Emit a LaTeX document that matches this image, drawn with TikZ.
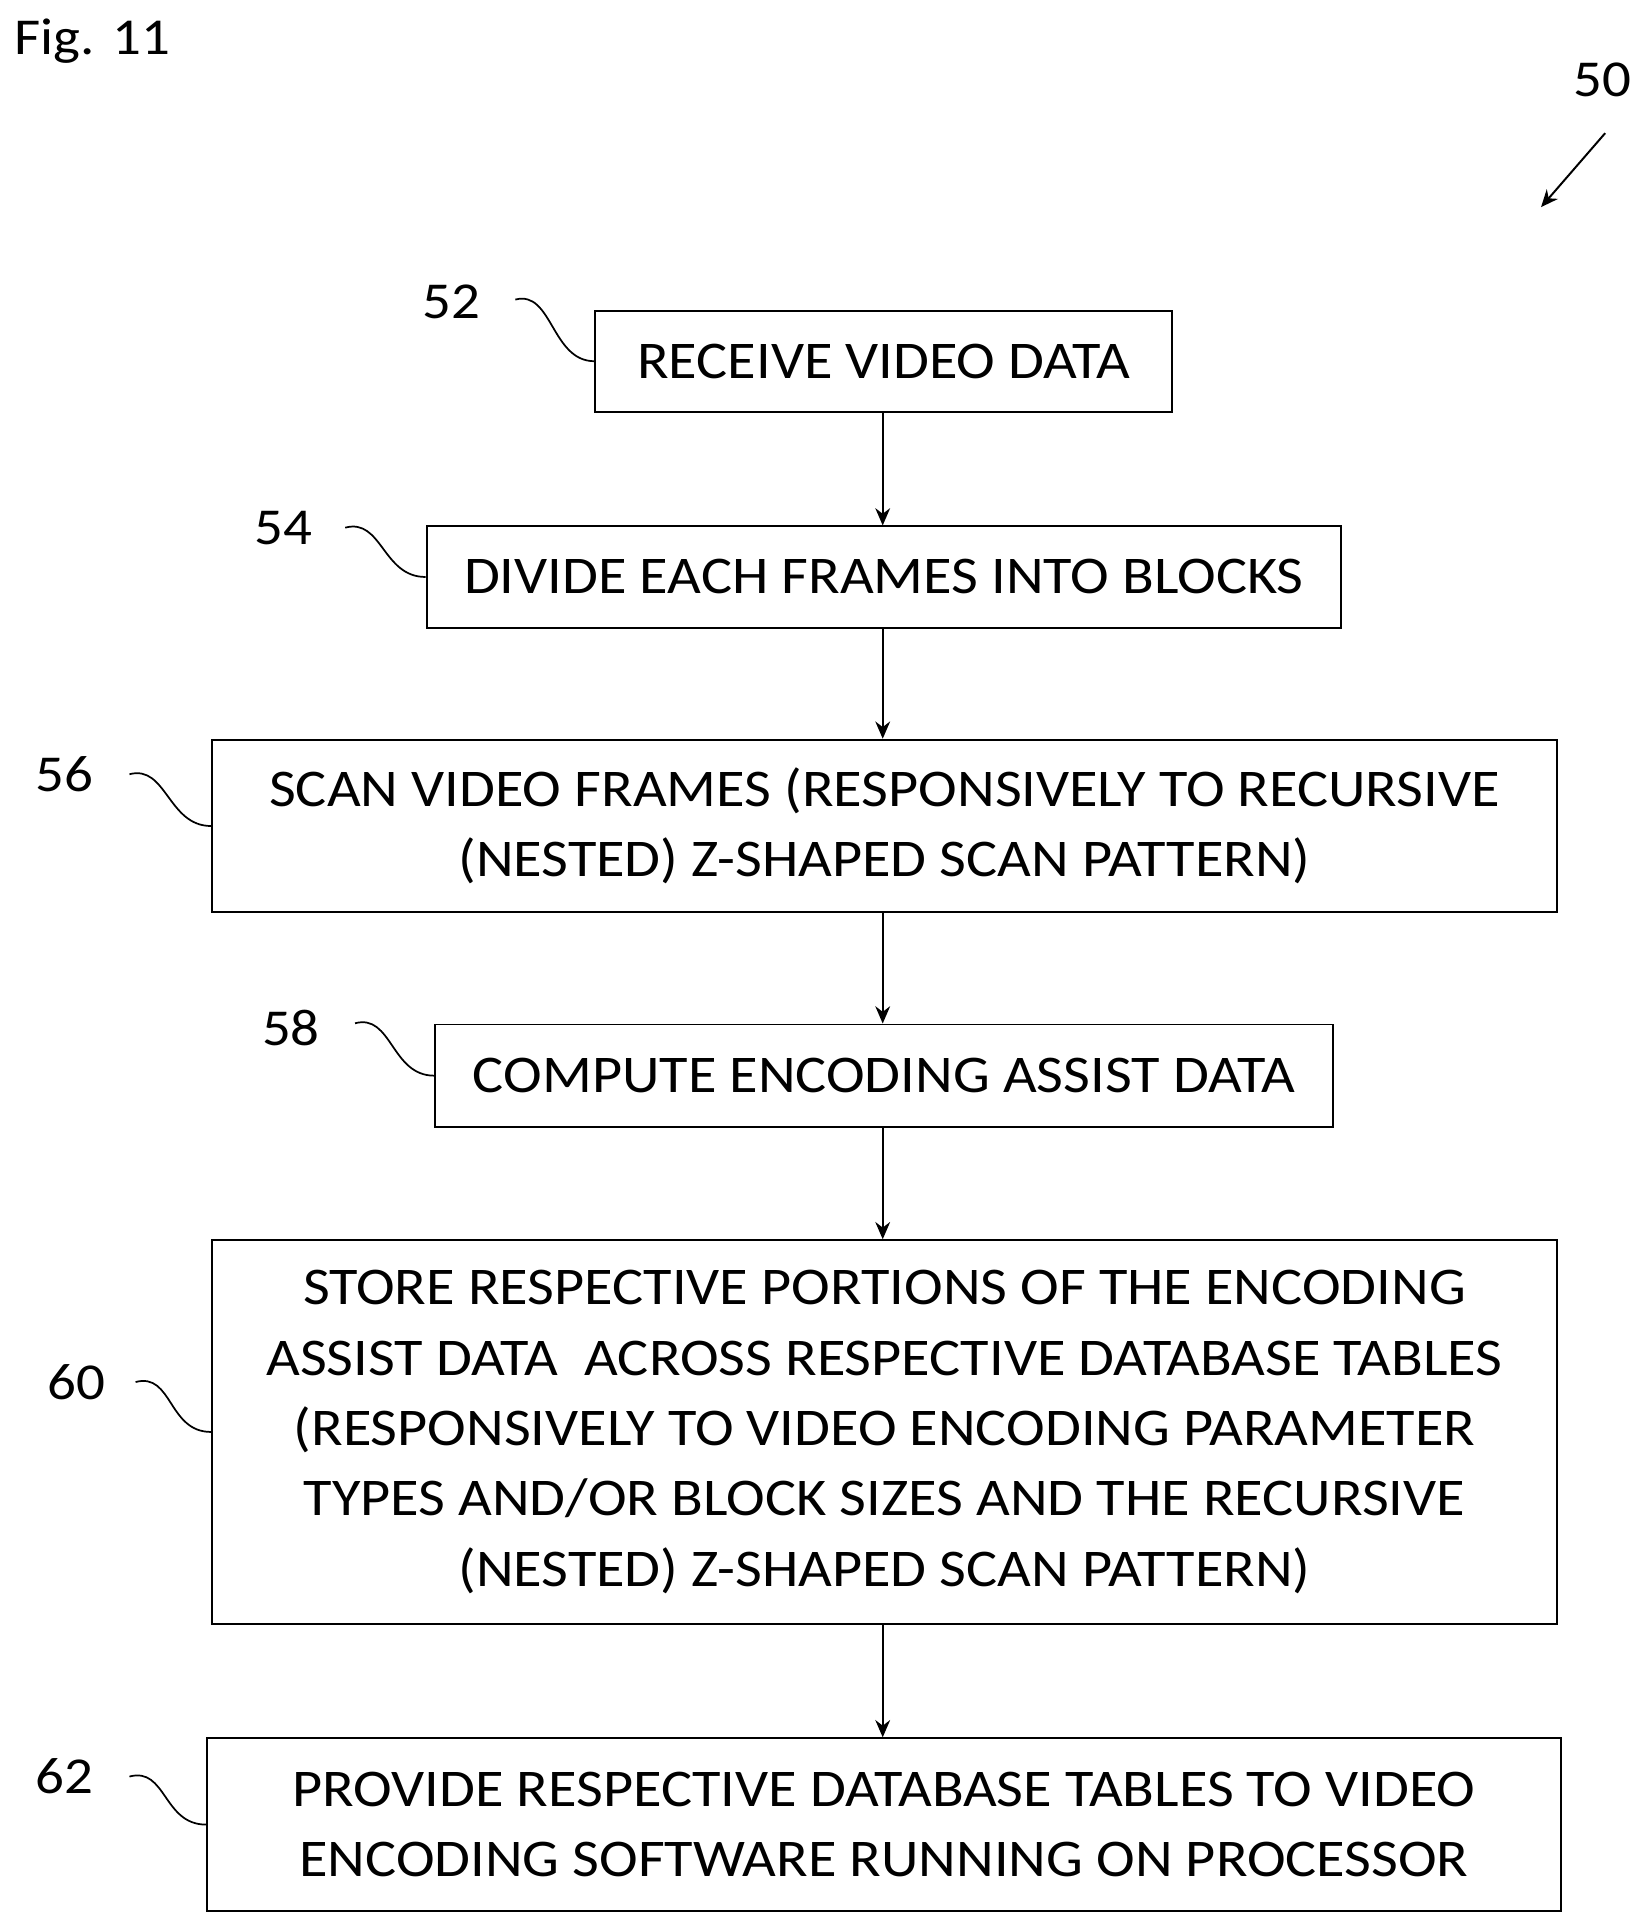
\documentclass[tikz,border=0pt]{standalone}
\usepackage{fontspec}
\setmainfont{Carlito}
\newfontfamily\boxfont[FakeStretch=1.1]{Carlito}
\usetikzlibrary{arrows.meta}
\begin{document}
\begin{tikzpicture}[x=1pt,y=-1pt,
  box/.style={draw,line width=1.6pt,inner sep=0pt,align=center,font=\boxfont\fontsize{43}{57}\selectfont},
  lab/.style={font=\boxfont\fontsize{42}{48}\selectfont,inner sep=0pt},
  arr/.style={line width=1.6pt,-{Stealth[length=14pt,width=12pt]}},
  sq/.style={line width=1.4pt}]
\useasboundingbox (0,0) rectangle (1331,1559);
\node[lab] (fig) at (75,33) {Fig. 11};
\node[lab] (n50) at (1300,65) {50};
\coordinate (a50s) at (1302,108);
\coordinate (a50e) at (1250,168);
\draw[arr] (a50s) -- (a50e);

\node[box,minimum width=468pt,minimum height=82pt] (b52) at (717,293) {RECEIVE VIDEO DATA};
\node[box,minimum width=742pt,minimum height=82pt] (b54) at (717,468) {DIVIDE EACH FRAMES INTO BLOCKS};
\node[box,minimum width=1091pt,minimum height=140pt] (b56) at (717.5,670) {SCAN VIDEO FRAMES (RESPONSIVELY TO RECURSIVE\\(NESTED) Z-SHAPED SCAN PATTERN)};
\node[box,minimum width=728pt,minimum height=83pt] (b58) at (717,872.5) {COMPUTE ENCODING ASSIST DATA};
\node[box,minimum width=1091pt,minimum height=311pt] (b60) at (717.5,1161.5) {STORE RESPECTIVE PORTIONS OF THE ENCODING\\ASSIST DATA\ \ ACROSS RESPECTIVE DATABASE TABLES\\(RESPONSIVELY TO VIDEO ENCODING PARAMETER\\TYPES AND/OR BLOCK SIZES AND THE RECURSIVE\\(NESTED) Z-SHAPED SCAN PATTERN)};
\node[box,minimum width=1098pt,minimum height=140pt] (b62) at (717,1480) {PROVIDE RESPECTIVE DATABASE TABLES TO VIDEO\\ENCODING SOFTWARE RUNNING ON PROCESSOR};

\draw[arr] (b52.south -| 716,0) -- (b54.north -| 716,0);
\draw[arr] (b54.south -| 716,0) -- (b56.north -| 716,0);
\draw[arr] (b56.south -| 716,0) -- (b58.north -| 716,0);
\draw[arr] (b58.south -| 716,0) -- (b60.north -| 716,0);
\draw[arr] (b60.south -| 716,0) -- (b62.north -| 716,0);

\node[lab] (l52) at (366,245) {52};
\node[lab] (l54) at (230,428) {54};
\node[lab] (l56) at (52,628) {56};
\node[lab] (l58) at (236,834) {58};
\node[lab] (l60) at (62,1121) {60};
\node[lab] (l62) at (52,1441) {62};
\coordinate (s52) at (418,243);
\coordinate (s54) at (280,428);
\coordinate (s56) at (105,628);
\coordinate (s58) at (288,830);
\coordinate (s60) at (110,1121);
\coordinate (s62) at (105,1441);
\foreach \s/\b in {s52/b52,s54/b54,s56/b56,s58/b58,s60/b60,s62/b62}{
  \draw[sq] (\s) .. controls +(30,-8) and +(-35,0) .. (\b.west);
}
\end{tikzpicture}
\end{document}
